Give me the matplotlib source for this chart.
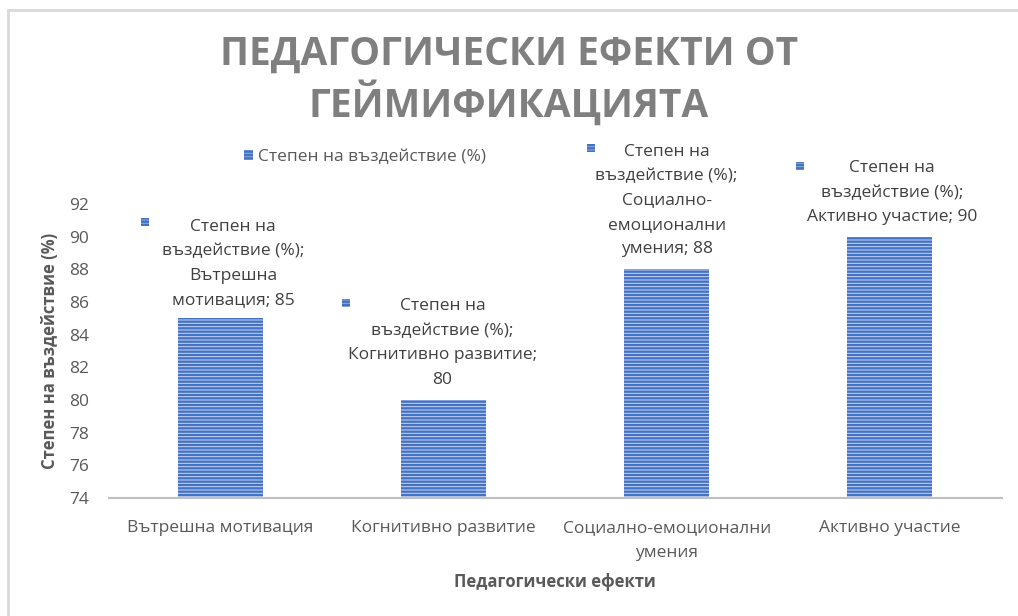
import matplotlib
matplotlib.use("Agg")
import matplotlib.pyplot as plt
from matplotlib.lines import Line2D
from matplotlib.patches import Rectangle

plt.rcParams['font.family'] = ['Open Sans', 'DejaVu Sans']
plt.rcParams['hatch.linewidth'] = 1.7

# data
categories = ['Вътрешна мотивация', 'Когнитивно развитие',
              'Социално-емоционални\nумения', 'Активно участие']
values = [85, 80, 88, 90]
series_name = 'Степен на въздействие (%)'
label_texts = ['Степен на\nвъздействие (%);\nВътрешна\nмотивация; 85',
               'Степен на\nвъздействие (%);\nКогнитивно развитие;\n80',
               'Степен на\nвъздействие (%);\nСоциално-\nемоционални\nумения; 88',
               'Степен на\nвъздействие (%);\nАктивно участие; 90']
yticks = [74, 76, 78, 80, 82, 84, 86, 88, 90, 92]

W, H = 1018, 616
fig = plt.figure(figsize=(W / 100, H / 100), dpi=100)
fig.patch.set_facecolor('white')

def fx(px):
    return px / W

def fy(py):
    return 1 - py / H

# chart border (left and top only visible)
fig.add_artist(Line2D([fx(8), fx(8)], [fy(10), 0], color='#d9d9d9', lw=2))
fig.add_artist(Line2D([fx(8), 1], [fy(10), fy(10)], color='#d9d9d9', lw=2))

ax = fig.add_axes([fx(108.5), fy(498), fx(1001.5) - fx(108.5), fy(204) - fy(498)])

blue = '#4472C4'
face = '#c8d6f0'
x = range(len(categories))
bars = ax.bar(x, [v - 74 for v in values], bottom=74, width=0.38,
              color=face, edgecolor=blue, linewidth=0, hatch='-----',
              label=series_name)

ax.set_xlim(-0.5, len(categories) - 0.5)
ax.set_ylim(74, 92)
ax.set_yticks(yticks)
ax.set_xticks(list(x))
ax.set_xticklabels(categories, fontsize=12.5, color='#595959', linespacing=1.7)
ax.tick_params(axis='y', length=0, pad=14, labelsize=12.5, labelcolor='#595959')
ax.tick_params(axis='x', length=0, pad=16)
for s in ['top', 'right', 'left']:
    ax.spines[s].set_visible(False)
ax.spines['bottom'].set_color('#bfbfbf')
ax.spines['bottom'].set_linewidth(1.5)

ax.set_ylabel('Степен на въздействие (%)', fontsize=12, fontweight='bold',
              color='#595959', labelpad=7)
ax.set_xlabel('Педагогически ефекти', fontsize=12, fontweight='bold',
              color='#595959', labelpad=9)

# data labels (offsets in pixels from bar top)
label_off = [(13, 55), (-1, 57), (0, 69), (2, 44)]
marker_off = [(-75, 96), (-97, 97), (-76, 121), (-90, 71)]
for i, v in enumerate(values):
    ax.annotate(label_texts[i], xy=(i, v), xytext=label_off[i],
                textcoords='offset pixels', ha='center', va='center',
                fontsize=12.5, color='#404040', linespacing=1.7,
                annotation_clip=False)
    mx, my = ax.transData.transform((i, v))
    mx += marker_off[i][0]
    my += marker_off[i][1]
    fig.add_artist(Rectangle((fx(mx - 4), (my - 4) / H), fx(8), 8 / H,
                             facecolor='#8faadc', edgecolor=blue, linewidth=0,
                             hatch='-----'))

# legend
leg = fig.legend(handles=[bars], labels=[series_name], loc='center left',
                 bbox_to_anchor=(fx(228), fy(157)), frameon=False,
                 handlelength=0.55, handleheight=0.55, handletextpad=0.3,
                 fontsize=12.5)
leg.legend_handles[0].set_facecolor('#8faadc')
for t in leg.get_texts():
    t.set_color('#595959')

fig.text(0.5, fy(54), 'ПЕДАГОГИЧЕСКИ ЕФЕКТИ ОТ', ha='center', va='center',
         fontsize=28, fontweight='bold', color='#7f7f7f')
fig.text(0.5, fy(103), 'ГЕЙМИФИКАЦИЯТА', ha='center', va='center',
         fontsize=28, fontweight='bold', color='#7f7f7f')

fig.savefig('out.png', dpi=100)
